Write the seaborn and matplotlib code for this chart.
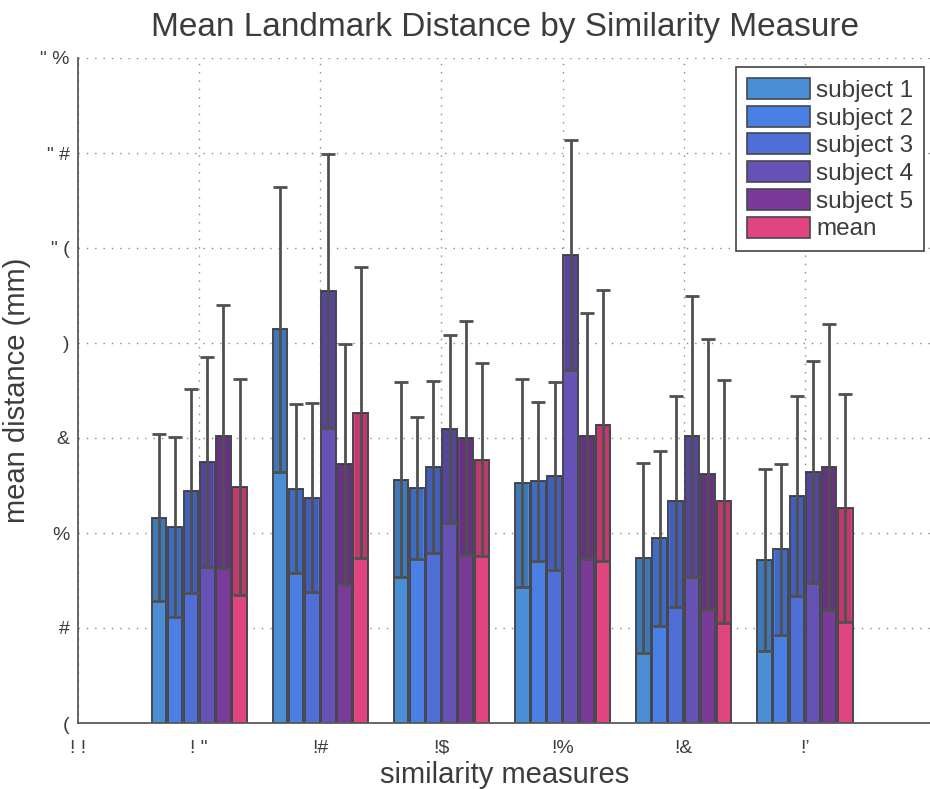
import numpy as np
import pandas as pd
import matplotlib
matplotlib.use("Agg")
import matplotlib.pyplot as plt
from matplotlib.patches import Patch
import seaborn as sns

# ---- data -------------------------------------------------------------
measure_pos = [1, 2, 3, 4, 5, 6]
x_tick_values = [0, 1, 2, 3, 4, 5, 6]
x_tick_labels = ["! !", "! \"", "!#", "!$", "!%", "!&", "!\u2019"]
y_tick_values = [0, 2, 4, 6, 8, 10, 12, 14]
y_tick_labels = ["(", "#", "%", "&", ")", "\" (", "\" #", "\" %"]

series_names = ["subject 1", "subject 2", "subject 3", "subject 4", "subject 5", "mean"]
series_colors = ["#4a8fd6", "#4a7fe4", "#4f6fd6", "#6652b4", "#7a3b98", "#e0457f"]

subject1_mean = [4.32, 8.29, 5.12, 5.05, 3.47, 3.43]
subject1_sd = [1.76, 3.00, 2.05, 2.19, 2.00, 1.92]
subject2_mean = [4.13, 4.93, 4.95, 5.09, 3.89, 3.66]
subject2_sd = [1.90, 1.78, 1.49, 1.67, 1.84, 1.80]
subject3_mean = [4.88, 4.74, 5.39, 5.20, 4.67, 4.78]
subject3_sd = [2.15, 1.99, 1.81, 1.97, 2.22, 2.10]
subject4_mean = [5.49, 9.09, 6.19, 9.85, 6.04, 5.28]
subject4_sd = [2.21, 2.88, 1.98, 2.42, 2.96, 2.34]
subject5_mean = [6.04, 5.45, 6.00, 6.04, 5.24, 5.39]
subject5_sd = [2.77, 2.52, 2.46, 2.59, 2.85, 3.01]
overall_mean = [4.97, 6.53, 5.54, 6.27, 4.67, 4.53]
overall_sd = [2.28, 3.06, 2.03, 2.85, 2.56, 2.40]

means = [subject1_mean, subject2_mean, subject3_mean, subject4_mean, subject5_mean, overall_mean]
sds = [subject1_sd, subject2_sd, subject3_sd, subject4_sd, subject5_sd, overall_sd]

df = pd.DataFrame({
    "measure": np.tile(measure_pos, len(series_names)),
    "distance": np.concatenate(means),
    "series": np.repeat(series_names, len(measure_pos)),
})

# ---- style ------------------------------------------------------------
sns.set_style("white")
plt.rcParams["font.family"] = ["Liberation Sans", "DejaVu Sans"]
text_color = "#3c3c3c"
edge_color = "#464650"
err_color = "#505050"

fig = plt.figure(figsize=(9.3, 7.89), dpi=100)
ax = fig.add_axes([78 / 930, 1 - 723 / 789, (931 - 78) / 930, (723 - 58) / 789])

sns.barplot(data=df, x="measure", y="distance", hue="series",
            hue_order=series_names, palette=series_colors, native_scale=True,
            errorbar=None, width=0.8, gap=0.1, edgecolor=edge_color,
            linewidth=1.4, saturation=1, legend=False, ax=ax)

# shaded band and error bar for every bar, placed on the drawn bars
for container, m, s in zip(ax.containers, means, sds):
    centers = np.array([b.get_x() + b.get_width() / 2 for b in container])
    bw = container[0].get_width()
    m = np.asarray(m)
    s = np.asarray(s)
    ax.bar(centers, s, bottom=m - s, width=bw * 0.84, color="black",
           alpha=0.15, linewidth=0, zorder=2.5)
    ax.errorbar(centers, m, yerr=s, fmt="none", ecolor=err_color,
                elinewidth=2, capsize=5, capthick=2, zorder=3)

# ---- axes -------------------------------------------------------------
ax.set_xlim(0, 7.04)
ax.set_ylim(0, 14)
ax.set_xticks(x_tick_values)
ax.set_xticklabels(x_tick_labels)
ax.set_yticks(y_tick_values)
ax.set_yticklabels(y_tick_labels)
ax.tick_params(axis="both", direction="in", length=5, width=1,
               color="#555555", labelsize=14, labelcolor=text_color)
ax.tick_params(axis="x", pad=12)
ax.tick_params(axis="y", pad=6)

ax.grid(True, linestyle=(0, (1, 5)), color="#8a8a8a", linewidth=1)
ax.set_axisbelow(True)
for side in ["top", "right"]:
    ax.spines[side].set_visible(False)
for side in ["left", "bottom"]:
    ax.spines[side].set_color("#5a5a5a")
    ax.spines[side].set_linewidth(1.3)

ax.set_title("Mean Landmark Distance by Similarity Measure",
             fontsize=24, color=text_color, pad=16)
ax.set_xlabel("similarity measures", fontsize=21, color=text_color, labelpad=3)
ax.set_ylabel("mean distance (mm)", fontsize=21, color=text_color)
ax.yaxis.set_label_coords(-0.055, 0.5)

handles = [Patch(facecolor=c, edgecolor=edge_color, linewidth=1.2)
           for c in series_colors]
leg = ax.legend(handles, series_names, loc="upper right",
                bbox_to_anchor=(924 / 930, 1 - 67 / 789),
                bbox_transform=fig.transFigure, fontsize=17.5,
                frameon=True, fancybox=False, framealpha=1,
                edgecolor="#444444", borderpad=0.45, borderaxespad=0,
                labelspacing=0.16, handlelength=2.6, handleheight=0.95,
                handletextpad=0.25)
leg.get_frame().set_linewidth(1.2)
for t in leg.get_texts():
    t.set_color(text_color)

fig.savefig("out.png", dpi=100)
